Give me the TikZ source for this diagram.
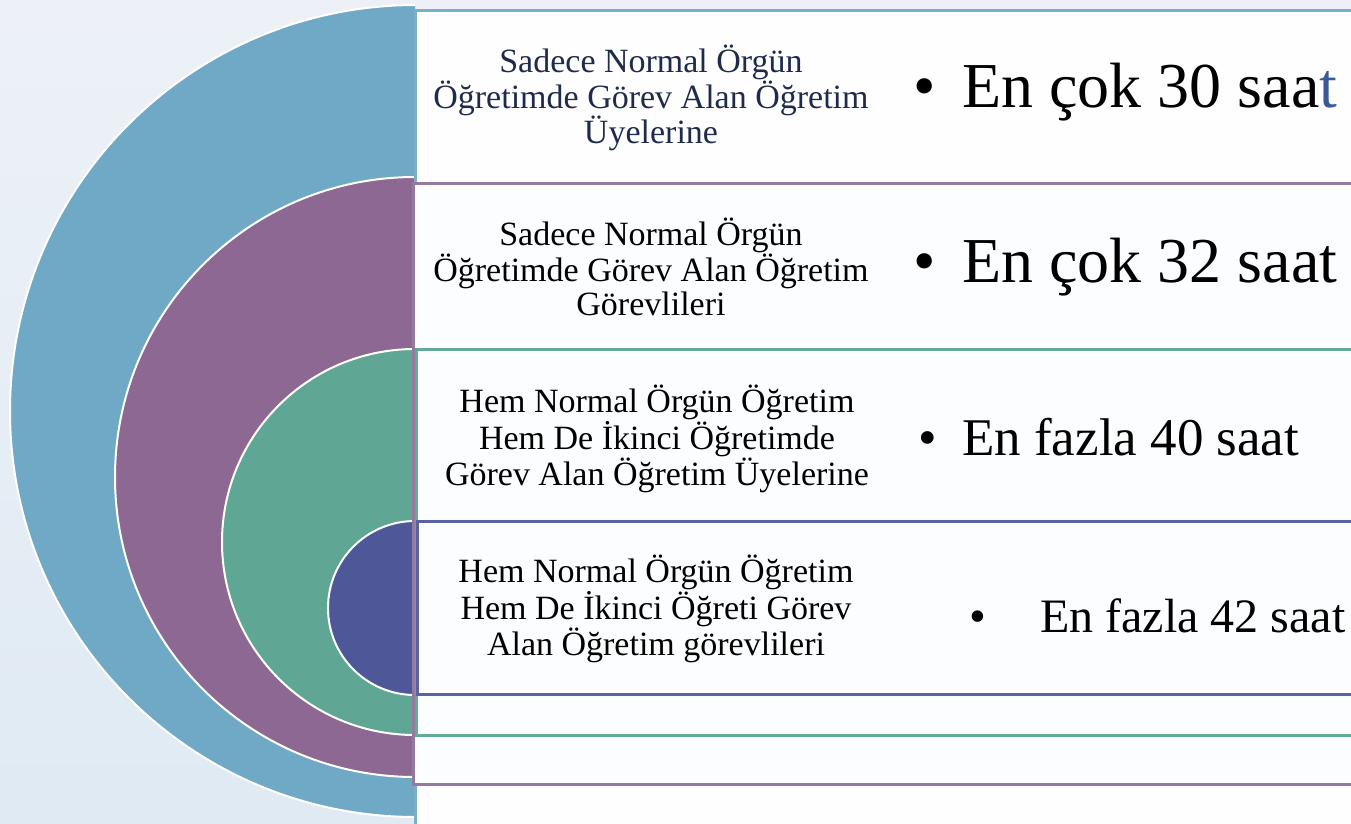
\documentclass[tikz,border=0pt]{standalone}
\usepackage{fontspec}
\setmainfont{Liberation Serif}
\definecolor{bgtop}{HTML}{EDF1F7}
\definecolor{bgbot}{HTML}{DFEAF3}
\definecolor{cblue}{HTML}{6FA9C5}
\definecolor{cpurple}{HTML}{8C6892}
\definecolor{cgreen}{HTML}{5FA794}
\definecolor{cnavy}{HTML}{4E5798}
\definecolor{lblue}{HTML}{78AFC9}
\definecolor{lpurple}{HTML}{957AA0}
\definecolor{lgreen}{HTML}{64AA98}
\definecolor{lnavy}{HTML}{5A62A0}
\definecolor{txtnavy}{HTML}{1E2B4B}
\definecolor{tblue}{HTML}{3C5898}
\definecolor{panelfill}{HTML}{FCFDFE}
\begin{document}
\begin{tikzpicture}[x=1pt,y=-1pt,
  halfdisc/.style={draw=white, line width=2pt},
  panel/.style={fill=panelfill, line width=3pt},
  lefttext/.style={align=center, inner sep=0pt, font=\fontsize{34}{34.5}\selectfont},
  bigtext/.style={anchor=base west, inner sep=0pt},
  dot/.style={anchor=base, inner sep=0pt}]
\useasboundingbox (0,0) rectangle (1351,823);
\shade[top color=bgtop, bottom color=bgbot] (0,0) rectangle (1351,823);
% nested half discs
\begin{scope}
  \clip (0,0) rectangle (415,823);
  \draw[halfdisc, fill=cblue] (416,411) circle[radius=406pt];
  \draw[halfdisc, fill=cpurple] (415,477) circle[radius=300pt];
  \draw[halfdisc, fill=cgreen] (415,542) circle[radius=193pt];
  \draw[halfdisc, fill=cnavy] (415,608) circle[radius=87pt];
\end{scope}
% panels
\draw[panel, draw=lblue, fill=white!60!panelfill] (415,10) rectangle (1365,840);
\draw[panel, draw=lpurple] (413,183) rectangle (1365,784);
\draw[panel, draw=lgreen] (416,349) rectangle (1365,735);
\draw[panel, draw=lnavy] (417,521) rectangle (1365,694);
% left texts
\node[lefttext, text=txtnavy] (t1) at (651,98) {Sadece Normal Örgün\\Öğretimde Görev Alan Öğretim\\Üyelerine};
\node[lefttext] (t2) at (651,267) {Sadece Normal Örgün\\Öğretimde Görev Alan Öğretim\\Görevlileri};
\node[lefttext] (t3) at (657,439) {Hem Normal Örgün Öğretim\\Hem De İkinci Öğretimde\\Görev Alan Öğretim Üyelerine};
\node[lefttext] (t4) at (656,609) {Hem Normal Örgün Öğretim\\Hem De İkinci Öğreti Görev\\Alan Öğretim görevlileri};
% right texts
\node[dot, font=\fontsize{64}{70}\selectfont] (b1) at (925,107) {•};
\node[bigtext, font=\fontsize{64}{70}\selectfont] (r1) at (962,107) {En çok 30 saa\textcolor{tblue}{t}};
\node[dot, font=\fontsize{64}{70}\selectfont] (b2) at (925,282) {•};
\node[bigtext, font=\fontsize{64}{70}\selectfont] (r2) at (962,282) {En çok 32 saat};
\node[dot, font=\fontsize{53}{60}\selectfont] (b3) at (928,455) {•};
\node[bigtext, font=\fontsize{53}{60}\selectfont] (r3) at (962,455) {En fazla 40 saat};
\node[dot, font=\fontsize{48}{55}\selectfont] (b4) at (978,632) {•};
\node[bigtext, font=\fontsize{48}{55}\selectfont] (r4) at (1040,632) {En fazla 42 saat};
\end{tikzpicture}
\end{document}
